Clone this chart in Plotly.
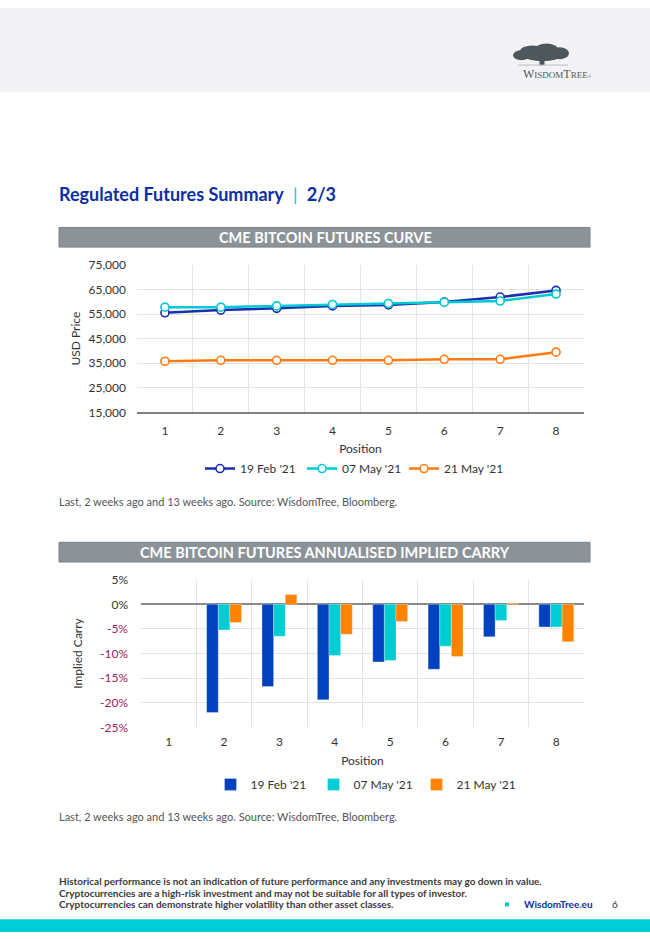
import plotly.graph_objects as go

W, H = 650, 939

# ---------------- data ----------------
positions = [1, 2, 3, 4, 5, 6, 7, 8]
series_names = ["19 Feb '21", "07 May '21", "21 May '21"]

curve_19feb = [55500, 56600, 57300, 58300, 58700, 59900, 61900, 64600]
curve_07may = [57800, 57800, 58300, 58900, 59300, 59800, 60300, 63100]
curve_21may = [35800, 36200, 36200, 36200, 36200, 36600, 36600, 39500]

carry_19feb = [None, -22.0, -16.7, -19.4, -11.7, -13.2, -6.6, -4.6]
carry_07may = [None, -5.2, -6.5, -10.4, -11.4, -8.5, -3.3, -4.6]
carry_21may = [None, -3.7, 2.0, -6.1, -3.5, -10.6, 0.2, -7.6]

price_ticks = [15000, 25000, 35000, 45000, 55000, 65000, 75000]
carry_ticks = [-25, -20, -15, -10, -5, 0, 5]

line_colors = ["#1B2FB0", "#00C9D3", "#FF7A12"]
bar_colors = ["#0041C0", "#00CCD4", "#FF8300"]

FONT = "Lato"


def px(x):
    return x / W


def py(y):
    return 1 - y / H


fig = go.Figure()

for name, vals, c in zip(series_names, [curve_19feb, curve_07may, curve_21may], line_colors):
    fig.add_trace(go.Scatter(
        x=positions, y=vals, name=name, mode="lines+markers",
        line=dict(color=c, width=2.5),
        marker=dict(symbol="circle", size=8, color="white", line=dict(color=c, width=1.6)),
        xaxis="x", yaxis="y", legend="legend",
    ))

for name, vals, c in zip(series_names, [carry_19feb, carry_07may, carry_21may], bar_colors):
    fig.add_trace(go.Bar(
        x=positions, y=vals, name=name,
        marker=dict(color=c, line=dict(color="rgba(255,255,255,0.5)", width=0.6)),
        xaxis="x2", yaxis="y2", legend="legend2",
    ))

tickfont = dict(family=FONT, size=12, color="#333333")
grid = "#E4E4E4"

carry_ticktext = []
for t in carry_ticks:
    col = "#333333" if t >= 0 else "#A3195B"
    carry_ticktext.append(f"<span style='fill:{col}'>{t}%</span>")

fig.update_layout(
    width=W, height=H,
    margin=dict(l=0, r=0, t=0, b=0),
    paper_bgcolor="white", plot_bgcolor="white",
    font=dict(family=FONT, color="#333333"),
    barmode="group", bargap=0.37, bargroupgap=0.0,
    xaxis=dict(
        domain=[px(137), px(584)], anchor="y",
        range=[0.5, 8.5], tickvals=positions, showgrid=False,
        minor=dict(tick0=0.5, dtick=1, showgrid=True, gridcolor=grid, gridwidth=1),
        showline=True, linecolor="#7F7F7F", linewidth=1.5,
        ticks="", tickfont=tickfont, ticklabelstandoff=6,
        title=dict(text="Position", font=dict(family=FONT, size=12, color="#333333"), standoff=8),
        zeroline=False,
    ),
    yaxis=dict(
        domain=[py(411), py(261)], anchor="x",
        range=[15000, 75000], tickvals=price_ticks, tickformat=",",
        showgrid=True, gridcolor=grid, gridwidth=1,
        tickfont=tickfont, ticks="", ticklabelstandoff=10, zeroline=False,
        title=dict(text="USD Price", font=dict(family=FONT, size=12, color="#333333"), standoff=5),
    ),
    xaxis2=dict(
        domain=[px(141), px(584)], anchor="y2",
        range=[0.5, 8.5], tickvals=positions, showgrid=False,
        minor=dict(tick0=0.5, dtick=1, showgrid=True, gridcolor=grid, gridwidth=1),
        showline=False, ticks="", tickfont=tickfont, ticklabelstandoff=6,
        title=dict(text="Position", font=dict(family=FONT, size=12, color="#333333"), standoff=8),
        zeroline=False,
    ),
    yaxis2=dict(
        domain=[py(731), py(581)], anchor="x2",
        range=[-25, 5], tickvals=carry_ticks, ticktext=carry_ticktext,
        showgrid=True, gridcolor=grid, gridwidth=1,
        zeroline=True, zerolinecolor="#8A8A8A", zerolinewidth=1.5,
        tickfont=tickfont, ticks="", ticklabelstandoff=12,
        title=dict(text="Implied Carry", font=dict(family=FONT, size=12, color="#333333"), standoff=14),
    ),
    legend=dict(
        orientation="h", x=px(353), xanchor="center", y=py(468), yanchor="middle",
        font=dict(family=FONT, size=12, color="#333333"), itemwidth=30,
        entrywidth=57, entrywidthmode="pixels",
        bgcolor="rgba(0,0,0,0)",
    ),
    legend2=dict(
        orientation="h", x=px(365), xanchor="center", y=py(789), yanchor="middle",
        font=dict(family=FONT, size=12, color="#333333"), itemwidth=30,
        entrywidth=58, entrywidthmode="pixels",
        bgcolor="rgba(0,0,0,0)",
    ),
)

shapes = []
annotations = []


def note(x, y, text, size, color, xanchor="center", family=FONT):
    annotations.append(dict(xref="paper", yref="paper", x=px(x), y=py(y), xanchor=xanchor, yanchor="middle",
                            showarrow=False, text=text, font=dict(family=family, size=size, color=color)))


def rect(x0, y0, x1, y1, fill, line=None):
    shapes.append(dict(type="rect", xref="paper", yref="paper", x0=px(x0), x1=px(x1), y0=py(y1), y1=py(y0),
                       fillcolor=fill, line=line or dict(width=0), layer="below"))


def blob(x0, y0, x1, y1, fill):
    shapes.append(dict(type="circle", xref="paper", yref="paper", x0=px(x0), x1=px(x1), y0=py(y1), y1=py(y0),
                       fillcolor=fill, line=dict(width=0)))


# header band
rect(0, 0, 650, 85, "#F3F3F5")
# tree logo (rough canopy made of blobs)
tree = "#4E575C"
blob(513, 43, 530, 53, tree)
blob(520, 38, 545, 50, tree)
blob(535, 36, 558, 49, tree)
blob(550, 40, 569, 52, tree)
blob(525, 44, 560, 54, tree)
shapes.append(dict(type="rect", xref="paper", yref="paper", x0=px(539.5), x1=px(544.5), y0=py(58), y1=py(50),
                   fillcolor=tree, line=dict(width=0)))
shapes.append(dict(type="line", xref="paper", yref="paper", x0=px(518), x1=px(568), y0=py(58), y1=py(58),
                   line=dict(color="#B9BEC2", width=1)))
note(557, 67, "W<span style='font-size:9px'>ISDOM</span>T<span style='font-size:9px'>REE</span>"
              "<span style='font-size:5px'>®</span>", 12, "#50585D", family="Liberation Serif")

# page title
note(57, 189, "<b>Regulated Futures Summary</b>  <span style='color:#00C8D2'>|</span>  <b>2/3</b>",
     18, "#0A2FA5", xanchor="left")

# section title bars
for (y0, y1, txt) in [(223, 243, "CME BITCOIN FUTURES CURVE"),
                      (543, 563, "CME BITCOIN FUTURES ANNUALISED IMPLIED CARRY")]:
    rect(59, y0, 590, y1, "#8B9398", dict(color="#7B8388", width=1))
    note(325, (y0 + y1) / 2 + 0.5, f"<b>{txt}</b>", 14.5, "white")

# captions
for yc in [502, 822]:
    note(57, yc, "Last, 2 weeks ago and 13 weeks ago. Source: WisdomTree, Bloomberg.", 11, "#555555",
         xanchor="left")

# footer
footer_lines = [
    "Historical performance is not an indication of future performance and any investments may go down in value.",
    "Cryptocurrencies are a high-risk investment and may not be suitable for all types of investor.",
    "Cryptocurrencies can demonstrate higher volatility than other asset classes.",
]
for i, t in enumerate(footer_lines):
    note(57, 887 + 12 * i, f"<b>{t}</b>", 10, "#3A3A3A", xanchor="left")
rect(505, 909, 509, 913, "#00C8D2")
note(522, 911, "<b>WisdomTree.eu</b>", 10, "#0A2FA5", xanchor="left")
note(615, 911, "6", 10, "#333333")
# bottom band
rect(0, 926, 650, 939, "#00CED6")

fig.update_layout(shapes=shapes, annotations=annotations)

# let the figure fill the 650x939 window exactly (no page margin, no scrollbars, no modebar)
fig.write_html(
    "out.html",
    config={"displayModeBar": False},
    post_script="document.body.style.margin='0px';document.documentElement.style.overflow='hidden';",
)
